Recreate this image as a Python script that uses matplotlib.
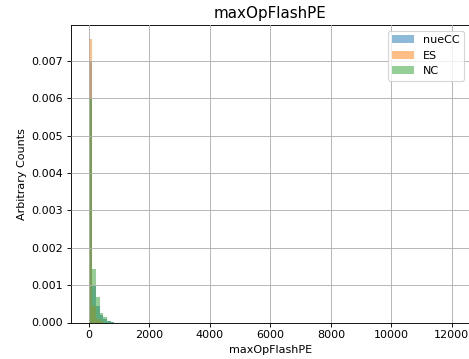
import numpy as np
import matplotlib
matplotlib.use("Agg")
import matplotlib.pyplot as plt

# Histogram binning (100 bins over 0..12000)
bin_lo = 0.0
bin_hi = 12000.0
n_bins = 100

# Densities of the first bins (rest are zero)
nuecc_density = [0.00700, 0.00097, 0.00044, 0.00021, 0.00010, 0.00004, 0.00002]
es_density = [0.00758, 0.00045, 0.00010, 0.00003]
nc_density = [0.00600, 0.00142, 0.00068, 0.00026, 0.00014, 0.00004, 0.00002]

labels = ["nueCC", "ES", "NC"]
colors = ["tab:blue", "tab:orange", "tab:green"]

edges = np.linspace(bin_lo, bin_hi, n_bins + 1)
centers = 0.5 * (edges[:-1] + edges[1:])

DPI = 80
fig = plt.figure(figsize=(469 / DPI, 359 / DPI), dpi=DPI)
ax = fig.add_axes([70.7 / 469, 36.5 / 359, 399.3 / 469, 297.5 / 359])

for dens, lab, col in zip([nuecc_density, es_density, nc_density], labels, colors):
    w = np.zeros(n_bins)
    w[:len(dens)] = dens
    ax.hist(centers, bins=edges, weights=w, alpha=0.5, label=lab, color=col)

ax.grid(True)
ax.set_axisbelow(False)
ax.set_title("maxOpFlashPE", fontsize=13.6)
ax.set_xlabel("maxOpFlashPE")
ax.set_ylabel("Arbitrary Counts")
ax.legend(loc="upper right")

fig.savefig("out.png", dpi=DPI)
